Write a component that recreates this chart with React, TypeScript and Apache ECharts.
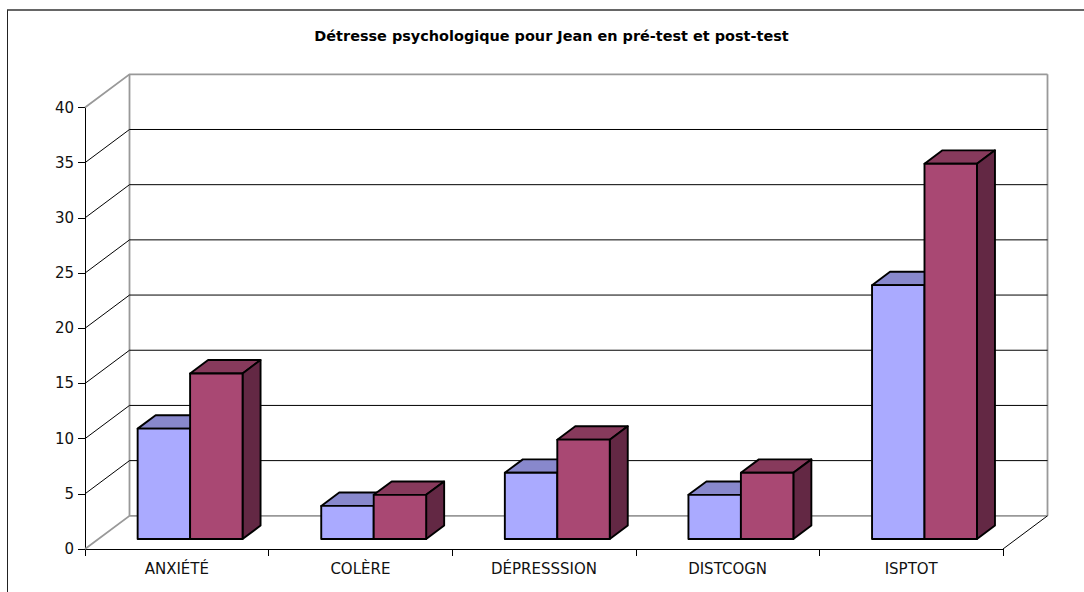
import React, { useEffect, useRef } from "react";
import * as echarts from "echarts";

const categories = ["ANXIÉTÉ", "COLÈRE", "DÉPRESSSION", "DISTCOGN", "ISPTOT"];
const preTest = [10, 3, 6, 4, 23];
const postTest = [15, 4, 9, 6, 34];
const yTicks = [0, 5, 10, 15, 20, 25, 30, 35, 40];
const titleText = "Détresse psychologique pour Jean en pré-test et post-test";

const WALL_DX = 44.5;
const WALL_DY = 33.2;
const BAR_OFF_DX = 13.3;
const BAR_OFF_DY = 10;
const BAR_DX = 18;
const BAR_DY = 13.4;
const BAR_BAND_FRACTION = 1 / 3.5;

function wallItem(params: any, api: any) {
  const v = api.value(0);
  const p = api.coord([0, v]);
  const band = api.size([1, 0])[0];
  const x0 = p[0] - band / 2;
  const x1 = x0 + band * categories.length;
  const y = p[1];
  const isEdge = v === 0 || v === 40;
  const stroke = isEdge ? "#999999" : "#000000";
  const lw = isEdge ? 1.8 : 1;
  const children: any[] = [
    {
      type: "polyline",
      shape: { points: [[x0, y], [x0 + WALL_DX, y - WALL_DY], [x1 + WALL_DX, y - WALL_DY]] },
      style: { stroke, lineWidth: lw, fill: "none" },
      silent: true,
    },
  ];
  if (v === 0) {
    const top = api.coord([0, 40])[1] - WALL_DY;
    children.push(
      {
        type: "line",
        shape: { x1: x0 + WALL_DX, y1: y - WALL_DY, x2: x0 + WALL_DX, y2: top },
        style: { stroke: "#999999", lineWidth: 1.8 },
      },
      {
        type: "line",
        shape: { x1: x1 + WALL_DX, y1: y - WALL_DY, x2: x1 + WALL_DX, y2: top },
        style: { stroke: "#999999", lineWidth: 1.8 },
      },
      {
        type: "line",
        shape: { x1: x1, y1: y, x2: x1 + WALL_DX, y2: y - WALL_DY },
        style: { stroke: "#000000", lineWidth: 1 },
      }
    );
  }
  return { type: "group", children };
}

function barRenderer(slot: number, front: string, topC: string, side: string) {
  return (params: any, api: any) => {
    const idx = api.value(0);
    const top = api.coord([idx, api.value(1)]);
    const base = api.coord([idx, 0]);
    const band = api.size([1, 0])[0];
    const w = band * BAR_BAND_FRACTION;
    const left = top[0] + BAR_OFF_DX - w + slot * w;
    const right = left + w;
    const yT = top[1] - BAR_OFF_DY;
    const yB = base[1] - BAR_OFF_DY;
    const stroke = { stroke: "#000000", lineWidth: 1.9, lineJoin: "round" };
    return {
      type: "group",
      children: [
        {
          type: "polygon",
          shape: { points: [[left, yT], [left + BAR_DX, yT - BAR_DY], [right + BAR_DX, yT - BAR_DY], [right, yT]] },
          style: { fill: topC, ...stroke },
        },
        {
          type: "polygon",
          shape: { points: [[right, yT], [right + BAR_DX, yT - BAR_DY], [right + BAR_DX, yB - BAR_DY], [right, yB]] },
          style: { fill: side, ...stroke },
        },
        {
          type: "rect",
          shape: { x: left, y: yT, width: w, height: yB - yT },
          style: { fill: front, ...stroke },
        },
      ],
    };
  };
}

export default function App() {
  const ref = useRef<HTMLDivElement>(null);
  useEffect(() => {
    if (!ref.current) return;
    const chart = echarts.init(ref.current, undefined, { renderer: "svg" });
    chart.setOption({
      animation: false,
      backgroundColor: "#ffffff",
      title: {
        text: titleText,
        left: 546.5,
        top: 24,
        textAlign: "center",
        textStyle: { fontFamily: "DejaVu Sans", fontWeight: "bold", fontSize: 14.45, color: "#000000" },
      },
      grid: { left: 85, right: 81, top: 107.5, bottom: 43 },
      xAxis: {
        type: "category",
        data: categories,
        axisLine: { show: true, lineStyle: { color: "#000000", width: 1 } },
        axisTick: { show: true, length: 7, lineStyle: { color: "#000000" } },
        axisLabel: { fontFamily: "DejaVu Sans", fontSize: 15, color: "#111111", margin: 12 },
        splitLine: { show: false },
      },
      yAxis: {
        type: "value",
        min: 0,
        max: 40,
        interval: 5,
        axisLine: { show: true, lineStyle: { color: "#000000", width: 1 } },
        axisTick: { show: true, length: 7, lineStyle: { color: "#000000" } },
        axisLabel: { fontFamily: "DejaVu Sans", fontSize: 15, color: "#111111", margin: 11 },
        splitLine: { show: false },
      },
      graphic: [
        { type: "line", silent: true, shape: { x1: 7.5, y1: 10, x2: 7.5, y2: 592 }, style: { stroke: "#222222", lineWidth: 1 } },
        { type: "line", silent: true, shape: { x1: 7, y1: 10, x2: 1084, y2: 10 }, style: { stroke: "#333333", lineWidth: 1.4 } },
      ],
      series: [
        {
          type: "custom",
          name: "walls",
          silent: true,
          clip: false,
          z: 1,
          data: yTicks.map((v) => [v]),
          encode: { y: 0 },
          renderItem: wallItem,
        },
        {
          type: "custom",
          name: "Pré-test",
          clip: false,
          z: 2,
          data: preTest.map((v, i) => [i, v]),
          encode: { x: 0, y: 1 },
          renderItem: barRenderer(0, "#AAAAFF", "#8888CC", "#666699"),
        },
        {
          type: "custom",
          name: "Post-test",
          clip: false,
          z: 3,
          data: postTest.map((v, i) => [i, v]),
          encode: { x: 0, y: 1 },
          renderItem: barRenderer(1, "#A94873", "#873A5C", "#632844"),
        },
      ],
    });
    return () => chart.dispose();
  }, []);
  return <div ref={ref} style={{ position: "fixed", left: 0, top: 0, width: 1084, height: 592 }} />;
}
